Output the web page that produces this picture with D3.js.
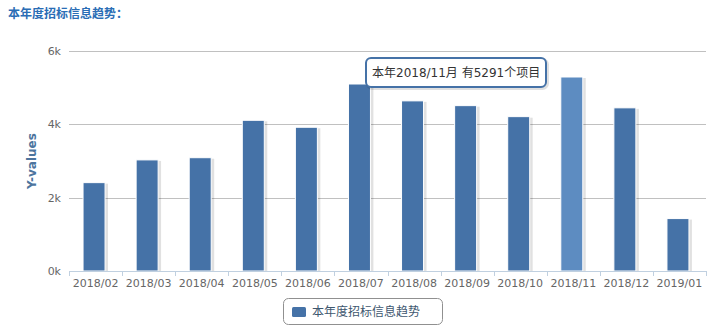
<!DOCTYPE html>
<html>
<head>
<meta charset="utf-8">
<script src="https://cdn.jsdelivr.net/npm/d3@7"></script>
<style>
  html, body { margin: 0; padding: 0; background: #fff; }
  svg { display: block; font-family: "DejaVu Sans", "Noto Sans CJK SC", sans-serif; }
</style>
</head>
<body>
<svg id="chart" width="708" height="332"></svg>
<script>
// ---------- data ----------
var months = ["2018/02", "2018/03", "2018/04", "2018/05", "2018/06", "2018/07", "2018/08", "2018/09", "2018/10", "2018/11", "2018/12", "2019/01"];
var counts = [2410, 3030, 3090, 4110, 3920, 5100, 4640, 4510, 4210, 5291, 4450, 1430];
var yTicks = [0, 2000, 4000, 6000];
var seriesName = "本年度招标信息趋势";
var hoverIdx = 9;

var svg = d3.select("#chart");
var pad = { l: 69, r: 706, t: 51, b: 271 };

var x = d3.scaleBand().domain(months).range([pad.l, pad.r]).paddingInner(0).paddingOuter(0);
var y = d3.scaleLinear().domain([0, 6000]).range([pad.b, pad.t]);

// title
svg.append("text").attr("x", 8).attr("y", 18).attr("font-size", 12).attr("font-weight", "bold")
  .attr("fill", "#2a6db5").attr("font-family", "'Noto Sans CJK SC', sans-serif").text("本年度招标信息趋势：");

// grid
svg.append("g").selectAll("line").data(yTicks.slice(1)).enter().append("line")
  .attr("x1", pad.l).attr("x2", pad.r).attr("y1", function (d) { return Math.round(y(d)) + 0.5; }).attr("y2", function (d) { return Math.round(y(d)) + 0.5; })
  .attr("stroke", "#c0c0c0").attr("stroke-width", 1);

// y labels
svg.append("g").selectAll("text").data(yTicks).enter().append("text")
  .attr("x", 61).attr("y", function (d) { return y(d) + 4; }).attr("text-anchor", "end")
  .attr("font-size", 11).attr("fill", "#666").text(function (d) { return (d / 1000) + "k"; });

// y title
svg.append("text").attr("transform", "translate(36,161) rotate(-90)").attr("text-anchor", "middle")
  .attr("font-size", 12).attr("font-weight", "bold").attr("fill", "#4d759e").text("Y-values");

// bars
var bw = 22;
var g = svg.append("g");
months.forEach(function (m, i) {
  var bx = x(m) + x.bandwidth() / 2 - bw / 2 - 1.5, by = y(counts[i]), bh = y(0) - y(counts[i]);
  g.append("rect").attr("x", bx + 1).attr("y", by + 1).attr("width", bw + 2).attr("height", bh).attr("fill", "#000").attr("opacity", 0.06);
  g.append("rect").attr("x", bx + 2).attr("y", by + 1).attr("width", bw + 1).attr("height", bh).attr("fill", "#000").attr("opacity", 0.06);
  g.append("rect").attr("x", bx).attr("y", by).attr("width", bw).attr("height", bh)
    .attr("fill", i === hoverIdx ? "#5d8cc1" : "#4572a7").attr("stroke", "#fff").attr("stroke-width", 1);
});

// x axis
svg.append("line").attr("x1", pad.l).attr("x2", pad.r).attr("y1", pad.b + 0.5).attr("y2", pad.b + 0.5).attr("stroke", "#c0d0e0");
var ticksX = months.map(function (m) { return x(m); }).concat([pad.r]);
svg.append("g").selectAll("line").data(ticksX).enter().append("line")
  .attr("x1", function (d) { return Math.round(d) + 0.5; }).attr("x2", function (d) { return Math.round(d) + 0.5; })
  .attr("y1", pad.b).attr("y2", pad.b + 5).attr("stroke", "#c0d0e0");
svg.append("g").selectAll("text").data(months).enter().append("text")
  .attr("x", function (d) { return x(d) + x.bandwidth() / 2; }).attr("y", 287).attr("text-anchor", "middle")
  .attr("font-size", 11).attr("fill", "#666").text(function (d) { return d; });

// tooltip
var tip = svg.append("g");
var tx = 366, ty = 58, tw = 180, th = 29;
tip.append("rect").attr("x", tx + 1.5).attr("y", ty + 1.5).attr("width", tw).attr("height", th).attr("rx", 5).attr("fill", "none").attr("stroke", "#000").attr("stroke-opacity", 0.12).attr("stroke-width", 3);
tip.append("rect").attr("x", tx).attr("y", ty).attr("width", tw).attr("height", th).attr("rx", 5)
  .attr("fill", "#fff").attr("fill-opacity", 0.95).attr("stroke", "#4572a7").attr("stroke-width", 2);
tip.append("text").attr("x", tx + 6).attr("y", ty + 19).attr("font-size", 12).attr("fill", "#333")
  .text("本年" + months[hoverIdx] + "月 有" + counts[hoverIdx] + "个项目");

// legend
var lg = svg.append("g");
lg.append("rect").attr("x", 283.5).attr("y", 298.5).attr("width", 159).attr("height", 26).attr("rx", 5)
  .attr("fill", "#fff").attr("stroke", "#909090").attr("stroke-width", 1);
lg.append("rect").attr("x", 292).attr("y", 307).attr("width", 14).attr("height", 10).attr("rx", 1.5).attr("fill", "#4572a7");
lg.append("text").attr("x", 312).attr("y", 316).attr("font-size", 12).attr("fill", "#3e576f")
  .attr("font-family", "'Noto Sans CJK SC', sans-serif").text(seriesName);
</script>
</body>
</html>
